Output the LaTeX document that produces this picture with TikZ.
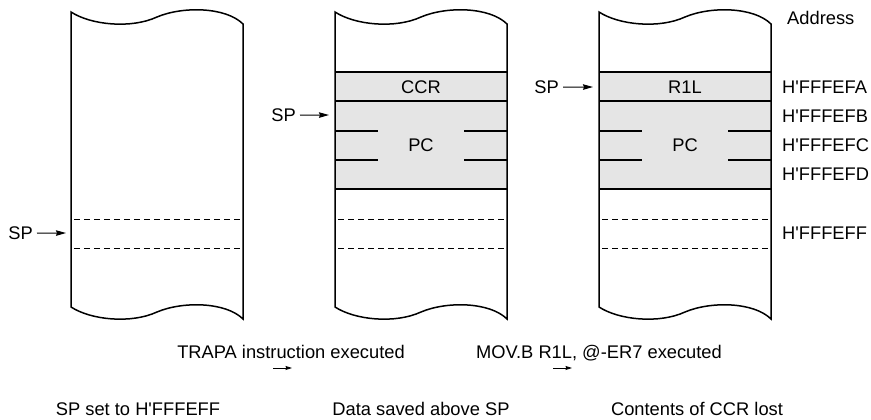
\documentclass[tikz,border=0pt]{standalone}
\usepackage{fontspec}
\setmainfont{Liberation Sans}[Ligatures=TeXOff]
\usetikzlibrary{arrows.meta}
\tikzstyle{mem}=[line width=1.5pt]
\tikzstyle{dl}=[line width=0.8pt,
                dash pattern=on 6pt off 4pt]
\tikzstyle{lbl}=[inner sep=0pt,
                 anchor=base,
                 font=\fontsize{18.3}{20}\selectfont]
\tikzstyle{adr}=[lbl, anchor=base west]
\tikzstyle{spn}=[lbl, anchor=base east]
\tikzstyle{spa}=[-{Stealth[length=10pt,width=5.5pt,inset=1pt]},
                 line width=1pt,
                 shorten <=4pt]
\tikzstyle{sma}=[-{Stealth[length=6.5pt,width=4pt,inset=0.8pt]},
                 line width=0.8pt]

\begin{document}
\begin{tikzpicture}[x=1pt,y=-1pt]
\useasboundingbox (0,0) rectangle (871,420);

% saved data (grey)
\foreach \x in {335,599}
  \fill[black!10] (\x,72) rectangle (\x+172,189);

% memory columns
\foreach \x in {71,335,599} {
  \draw[mem] (\x,307) -- (\x,12)
    .. controls (\x+20,25) and (\x+60,29) .. (\x+86,17)
    .. controls (\x+112,6) and (\x+155,7) .. (\x+172,24)
    -- (\x+172,319)
    .. controls (\x+155,302) and (\x+112,301) .. (\x+86,312)
    .. controls (\x+60,324) and (\x+20,320) .. cycle;
  \draw[dl] (\x+3,219) -- (\x+169,219)
            (\x+3,248) -- (\x+169,248);
}

% byte boundaries
\foreach \x in {335,599} {
  \draw[mem] (\x,72) -- (\x+172,72)
             (\x,101) -- (\x+172,101)
             (\x,189) -- (\x+172,189);
  \foreach \y in {131,160}
    \draw[mem] (\x,\y) -- (\x+43,\y)
               (\x+129,\y) -- (\x+172,\y);
}

% contents
\node[lbl] (ccr) at (421,93.5) {CCR};
\node[lbl] (pc2) at (421,151.5) {PC};
\node[lbl] (r1l) at (685,93.5) {R1L};
\node[lbl] (pc3) at (685,151.5) {PC};

% stack pointer
\node[spn] (sp1) at (33,239.5) {SP};
\node[spn] (sp2) at (296,121.5) {SP};
\node[spn] (sp3) at (559,93.5) {SP};
\coordinate (e1) at (66,233);
\coordinate (e2) at (329,115);
\coordinate (e3) at (593,87);
\draw[spa] (sp1.east) -- (e1);
\draw[spa] (sp2.east) -- (e2);
\draw[spa] (sp3.east) -- (e3);

% addresses
\node[adr] (addr) at (787,24.5) {Address};
\node[adr] (afa) at (782,93.5) {H'FFFEFA};
\node[adr] (afb) at (782,122.5) {H'FFFEFB};
\node[adr] (afc) at (782,151.5) {H'FFFEFC};
\node[adr] (afd) at (782,180.5) {H'FFFEFD};
\node[adr] (aff) at (782,239.5) {H'FFFEFF};

% steps
\node[lbl] (trapa) at (291,358.5) {TRAPA instruction executed};
\node[lbl] (mov) at (599,358.5) {MOV.B R1L, @-ER7 executed};
\coordinate (t1) at (273,368);
\coordinate (t2) at (292,368);
\coordinate (m1) at (553,368);
\coordinate (m2) at (572,368);
\draw[sma] (t1) -- (t2);
\draw[sma] (m1) -- (m2);

\node[lbl] (cap1) at (138,415) {SP set to H'FFFEFF};
\node[lbl] (cap2) at (421,415) {Data saved above SP};
\node[lbl] (cap3) at (697,415) {Contents of CCR lost};

\end{tikzpicture}
\end{document}
